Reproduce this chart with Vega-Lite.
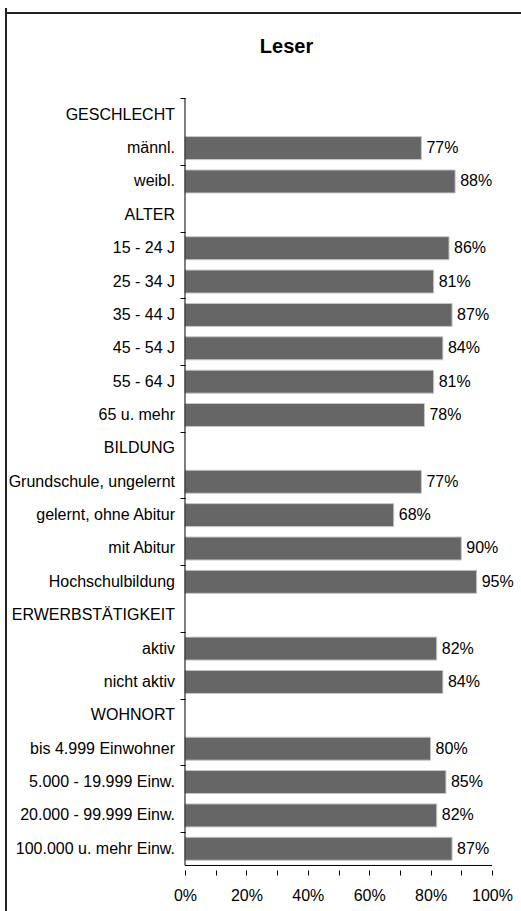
{
  "$schema": "https://vega.github.io/schema/vega-lite/v6.json",
  "width": 515,
  "height": 903,
  "autosize": {"type": "none"},
  "padding": {"left": 6, "top": 8, "right": 0, "bottom": 0},
  "background": "white",
  "title": {"text": "Leser", "orient": "top", "anchor": "middle", "frame": "group", "offset": -66, "baseline": "alphabetic", "dx": 23, "fontSize": 20, "fontWeight": "bold", "font": "Liberation Sans", "color": "black"},
  "config": {
    "view": {"stroke": null},
    "font": "Liberation Sans",
    "text": {"font": "Liberation Sans", "fontSize": 16, "color": "black"}
  },
  "data": {
    "values": [
      {"row": 0, "label": "GESCHLECHT", "value": null},
      {"row": 1, "label": "männl.", "value": 0.77},
      {"row": 2, "label": "weibl.", "value": 0.88},
      {"row": 3, "label": "ALTER", "value": null},
      {"row": 4, "label": "15 - 24 J", "value": 0.86},
      {"row": 5, "label": "25 - 34 J", "value": 0.81},
      {"row": 6, "label": "35 - 44 J", "value": 0.87},
      {"row": 7, "label": "45 - 54 J", "value": 0.84},
      {"row": 8, "label": "55 - 64 J", "value": 0.81},
      {"row": 9, "label": "65 u. mehr", "value": 0.78},
      {"row": 10, "label": "BILDUNG", "value": null},
      {"row": 11, "label": "Grundschule, ungelernt", "value": 0.77},
      {"row": 12, "label": "gelernt, ohne Abitur", "value": 0.68},
      {"row": 13, "label": "mit Abitur", "value": 0.90},
      {"row": 14, "label": "Hochschulbildung", "value": 0.95},
      {"row": 15, "label": "ERWERBSTÄTIGKEIT", "value": null},
      {"row": 16, "label": "aktiv", "value": 0.82},
      {"row": 17, "label": "nicht aktiv", "value": 0.84},
      {"row": 18, "label": "WOHNORT", "value": null},
      {"row": 19, "label": "bis 4.999 Einwohner", "value": 0.80},
      {"row": 20, "label": "5.000 - 19.999 Einw.", "value": 0.85},
      {"row": 21, "label": "20.000 - 99.999 Einw.", "value": 0.82},
      {"row": 22, "label": "100.000 u. mehr Einw.", "value": 0.87}
    ]
  },
  "layer": [
    {
      "mark": {"type": "bar", "orient": "horizontal", "size": 23, "color": "#666666", "stroke": "#c8c8c8", "strokeWidth": 1},
      "encoding": {
        "y": {
          "field": "row", "type": "quantitative",
          "scale": {"domain": [-3.049, 23.715], "reverse": true, "nice": false, "zero": false},
          "axis": {
            "title": null, "orient": "left", "offset": -179, "domain": false, "labels": false, "grid": false,
            "values": [-0.5, 0.5, 1.5, 2.5, 3.5, 4.5, 5.5, 6.5, 7.5, 8.5, 9.5, 10.5, 11.5, 12.5, 13.5, 14.5, 15.5, 16.5, 17.5, 18.5, 19.5, 20.5, 21.5, 22.5],
            "tickSize": 5, "tickColor": "black", "tickWidth": 1
          }
        },
        "x": {
          "field": "value", "type": "quantitative",
          "scale": {"domain": [-0.58306, 1.09446], "nice": false, "zero": false},
          "axis": {
            "title": null, "orient": "bottom", "offset": -41, "domain": false, "grid": false,
            "values": [0, 0.1, 0.2, 0.3, 0.4, 0.5, 0.6, 0.7, 0.8, 0.9, 1.0],
            "format": ".0%",
            "labelExpr": "round(datum.value*100) % 20 == 0 ? datum.label : ''",
            "tickSize": 5, "tickColor": "black", "tickWidth": 1,
            "labelFont": "Liberation Sans", "labelFontSize": 16, "labelColor": "black", "labelPadding": 12
          }
        }
      }
    },
    {
      "mark": {"type": "text", "align": "left", "baseline": "middle", "dx": 5, "fontSize": 16},
      "encoding": {
        "y": {"field": "row", "type": "quantitative"},
        "x": {"field": "value", "type": "quantitative"},
        "text": {"field": "value", "type": "quantitative", "format": ".0%"}
      }
    },
    {
      "mark": {"type": "text", "align": "right", "baseline": "middle", "dx": -10, "fontSize": 16},
      "encoding": {
        "y": {"field": "row", "type": "quantitative"},
        "x": {"datum": 0},
        "text": {"field": "label", "type": "nominal"}
      }
    },
    {
      "data": {"values": [{"a": 0}]},
      "mark": {"type": "rule", "color": "black", "strokeWidth": 1},
      "encoding": {"x": {"datum": 0}, "y": {"datum": -0.5}, "y2": {"datum": 22.5}}
    },
    {
      "data": {"values": [{"a": 0}]},
      "mark": {"type": "rule", "color": "black", "strokeWidth": 1},
      "encoding": {"x": {"datum": 0}, "x2": {"datum": 1}, "y": {"datum": 22.5}}
    },
    {
      "data": {"values": [{"a": 0}]},
      "mark": {"type": "rule", "color": "#222222", "strokeWidth": 2},
      "encoding": {"y": {"datum": -3.049}}
    },
    {
      "data": {"values": [{"a": 0}]},
      "mark": {"type": "rule", "color": "#222222", "strokeWidth": 2},
      "encoding": {"x": {"datum": -0.58306}}
    }
  ]
}
